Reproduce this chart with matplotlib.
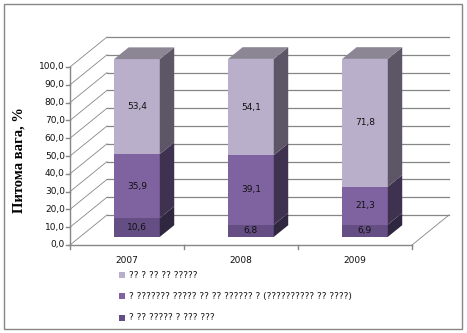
import matplotlib
matplotlib.use("Agg")
import matplotlib.pyplot as plt
from matplotlib.patches import Polygon, Rectangle

years = ["2007", "2008", "2009"]
bottom_vals = [10.6, 6.8, 6.9]
middle_vals = [35.9, 39.1, 21.3]
top_vals = [53.4, 54.1, 71.8]
y_ticks = [0, 10, 20, 30, 40, 50, 60, 70, 80, 90, 100]
legend_labels = [
    "?? ? ?? ?? ?????",
    "? ??????? ????? ?? ?? ?????? ? (?????????? ?? ????)",
    "? ?? ????? ? ??? ???",
]

# face colours: (front, side, top)
series_colors = [
    ("#654e84", "#2f2640", "#4a3b5e"),
    ("#7f63a0", "#3f3150", "#5d4a75"),
    ("#b9afca", "#5c5666", "#8b8594"),
]

W, H = 467, 333
fig = plt.figure(figsize=(W / 100, H / 100), dpi=100)

# front plot area in pixels: x 70..412, y 245 (0) .. 67 (100); back wall offset (37, -30)
px_x0, px_y0 = 70, 245
px_per_cat = 342 / 3
px_per_unit = 178 / 100
off_px = (37, 30)
right_px, top_px = 450, 37

ax = fig.add_axes([px_x0 / W, (H - px_y0) / H, (right_px - px_x0) / W, (px_y0 - top_px) / H])
ax.set_xlim(0, (right_px - px_x0) / px_per_cat)
ax.set_ylim(0, (px_y0 - top_px) / px_per_unit)
ax.axis("off")

dx = off_px[0] / px_per_cat
dy = off_px[1] / px_per_unit
grid_c = "#868686"
txt_c = "#111111"

# back wall gridlines and left wall diagonals
for t in y_ticks:
    ax.plot([dx, 3 + dx], [t + dy, t + dy], color=grid_c, lw=0.9, clip_on=False, zorder=1)
    ax.plot([0, dx], [t, t + dy], color=grid_c, lw=0.6, clip_on=False, zorder=1)
# floor
ax.plot([3, 3 + dx], [0, dy], color=grid_c, lw=0.6, clip_on=False, zorder=1)
ax.plot([0, 3], [0, 0], color=grid_c, lw=1.0, clip_on=False, zorder=5)
ax.plot([0, 0], [0, 100], color=grid_c, lw=1.0, clip_on=False, zorder=5)

# ticks and tick labels
tick_dx = 4 / px_per_cat
tick_dy = 4 / px_per_unit
for t in y_ticks:
    ax.plot([-tick_dx, 0], [t, t], color=grid_c, lw=1.0, clip_on=False)
    ax.text(-tick_dx - 0.01, t, f"{t:.1f}".replace(".", ","), ha="right", va="center",
            fontsize=6.5, color=txt_c, family="DejaVu Sans")
for i in range(4):
    ax.plot([i, i], [0, -tick_dy], color=grid_c, lw=1.0, clip_on=False)
for i, yr in enumerate(years):
    ax.text(i + 0.5, -8.5, yr, ha="center", va="center", fontsize=6.5, color=txt_c)

# bars
f1, f2 = 0.27, 0.66
bw = 0.40
for i in range(len(years)):
    x0 = i + 0.5 - bw / 2 + f1 * dx
    x1 = x0 + bw
    b0 = f1 * dy
    sx = (f2 - f1) * dx
    sy = (f2 - f1) * dy
    base = 0
    segs = [bottom_vals[i], middle_vals[i], top_vals[i]]
    for k, v in enumerate(segs):
        front, side, top = series_colors[k]
        y0 = b0 + base
        y1 = y0 + v
        ax.add_patch(Rectangle((x0, y0), bw, v, facecolor=front, edgecolor="none", zorder=3))
        ax.add_patch(Polygon([(x1, y0), (x1 + sx, y0 + sy), (x1 + sx, y1 + sy), (x1, y1)],
                             closed=True, facecolor=side, edgecolor="none", zorder=3))
        ax.text(x0 + bw / 2, (y0 + y1) / 2, f"{v:.1f}".replace(".", ","), ha="center",
                va="center", fontsize=6.5, color=txt_c, zorder=4)
        base += v
    ytop = b0 + base
    fc_top = series_colors[2][2]
    ax.add_patch(Polygon([(x0, ytop), (x0 + sx, ytop + sy), (x1 + sx, ytop + sy), (x1, ytop)],
                         closed=True, facecolor=fc_top, edgecolor="none", zorder=3))

# y label
fig.text(19 / W, 1 - 160 / H, "Питома вага, %", rotation=90, ha="center", va="center",
         fontsize=10.5, fontweight="bold", family="Liberation Serif")

# legend, top series first
for k, (lab, yy) in enumerate(zip(legend_labels, [275, 296, 318])):
    col = series_colors[2 - k][0]
    fig.patches.append(Rectangle((119 / W, 1 - (yy + 3) / H), 6 / W, 6 / H, facecolor=col,
                                 edgecolor="none", transform=fig.transFigure, figure=fig))
    fig.text(129 / W, 1 - yy / H, lab, ha="left", va="center", fontsize=6.5, color=txt_c)

# outer border
fig.patches.append(Rectangle((4 / W, 1 - 329 / H), 458 / W, 325 / H, facecolor="none",
                             edgecolor=grid_c, lw=1.0, transform=fig.transFigure, figure=fig))

fig.savefig("out.png", dpi=100)
